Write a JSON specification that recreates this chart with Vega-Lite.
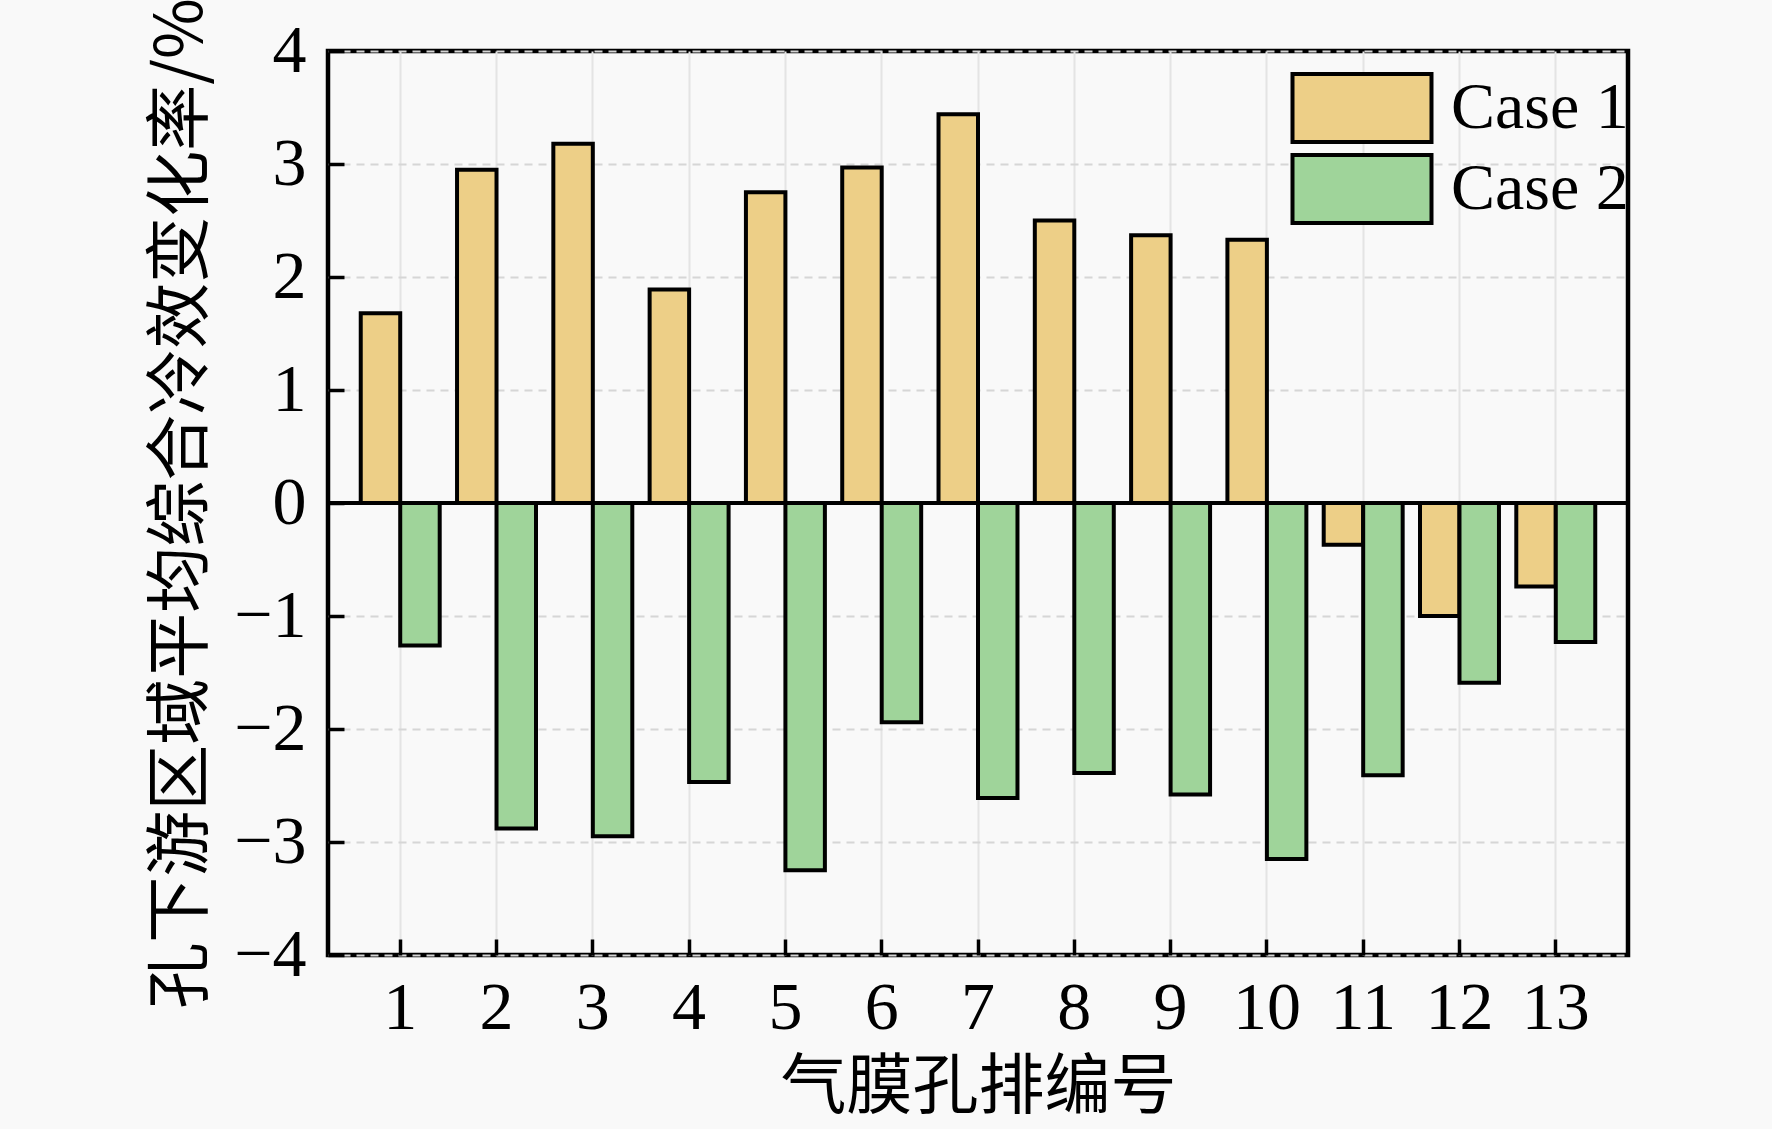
{
  "$schema": "https://vega.github.io/schema/vega-lite/v6.json",
  "width": 1300,
  "height": 904,
  "autosize": {"type": "none"},
  "padding": {"left": 328, "top": 51, "right": 144, "bottom": 174},
  "background": "#f9f9f9",
  "config": {
    "view": {"stroke": "black", "strokeWidth": 4.5},
    "font": "Liberation Serif, Noto Sans CJK SC",
    "axis": {"labelColor": "black", "titleColor": "black", "labelFont": "Liberation Serif", "titleFont": "Noto Sans CJK SC", "titleFontWeight": "normal"}
  },
  "data": {
    "values": [
      {"row": 1, "case": "Case 1", "value": 1.68},
      {"row": 2, "case": "Case 1", "value": 2.95},
      {"row": 3, "case": "Case 1", "value": 3.18},
      {"row": 4, "case": "Case 1", "value": 1.89},
      {"row": 5, "case": "Case 1", "value": 2.75},
      {"row": 6, "case": "Case 1", "value": 2.97},
      {"row": 7, "case": "Case 1", "value": 3.44},
      {"row": 8, "case": "Case 1", "value": 2.5},
      {"row": 9, "case": "Case 1", "value": 2.37},
      {"row": 10, "case": "Case 1", "value": 2.33},
      {"row": 11, "case": "Case 1", "value": -0.37},
      {"row": 12, "case": "Case 1", "value": -1.0},
      {"row": 13, "case": "Case 1", "value": -0.74},
      {"row": 1, "case": "Case 2", "value": -1.26},
      {"row": 2, "case": "Case 2", "value": -2.88},
      {"row": 3, "case": "Case 2", "value": -2.95},
      {"row": 4, "case": "Case 2", "value": -2.47},
      {"row": 5, "case": "Case 2", "value": -3.25},
      {"row": 6, "case": "Case 2", "value": -1.94},
      {"row": 7, "case": "Case 2", "value": -2.61},
      {"row": 8, "case": "Case 2", "value": -2.39},
      {"row": 9, "case": "Case 2", "value": -2.58},
      {"row": 10, "case": "Case 2", "value": -3.15},
      {"row": 11, "case": "Case 2", "value": -2.41},
      {"row": 12, "case": "Case 2", "value": -1.59},
      {"row": 13, "case": "Case 2", "value": -1.23}
    ]
  },
  "layer": [
    {
      "mark": {"type": "bar", "stroke": "black", "strokeWidth": 4, "opacity": 1},
      "encoding": {
        "x": {
          "field": "row",
          "type": "ordinal",
          "scale": {"paddingInner": 0.18, "paddingOuter": 0.34},
          "axis": {
            "title": "气膜孔排编号",
            "titleFontSize": 66,
            "titlePadding": 13,
            "labelAngle": 0,
            "labelFontSize": 68,
            "labelPadding": 35,
            "tickSize": -16,
            "tickWidth": 3.5,
            "tickColor": "black",
            "domain": false,
            "grid": true,
            "gridColor": "#e4e4e4",
            "gridWidth": 2
          }
        },
        "xOffset": {"field": "case", "type": "nominal"},
        "y": {
          "field": "value",
          "type": "quantitative",
          "scale": {"domain": [-4, 4], "nice": false},
          "axis": {
            "title": "孔下游区域平均综合冷效变化率/%",
            "titleFontSize": 66,
            "titlePadding": 18,
            "values": [-4, -3, -2, -1, 0, 1, 2, 3, 4],
            "format": "d",
            "labelFontSize": 68,
            "labelPadding": 38,
            "tickSize": -16,
            "tickWidth": 3.5,
            "tickColor": "black",
            "domain": false,
            "grid": true,
            "gridColor": "#d6d6d6",
            "gridWidth": 2,
            "gridDash": [8, 6]
          }
        },
        "color": {
          "field": "case",
          "type": "nominal",
          "scale": {"domain": ["Case 1", "Case 2"], "range": ["#EDCF87", "#9FD49A"]},
          "legend": {
            "title": null,
            "orient": "none",
            "legendX": 997,
            "legendY": 20,
            "padding": 0,
            "symbolType": "M-2,-0.98H2V0.98H-2Z",
            "symbolSize": 4830,
            "symbolStrokeColor": "black",
            "symbolStrokeWidth": 4,
            "symbolOpacity": 1,
            "labelFontSize": 66,
            "labelFont": "Liberation Serif",
            "labelColor": "black",
            "labelLimit": 0,
            "labelOffset": 52,
            "rowPadding": -5
          }
        }
      }
    },
    {
      "mark": {"type": "rule", "color": "black", "strokeWidth": 4},
      "encoding": {"y": {"datum": 0}}
    }
  ]
}
